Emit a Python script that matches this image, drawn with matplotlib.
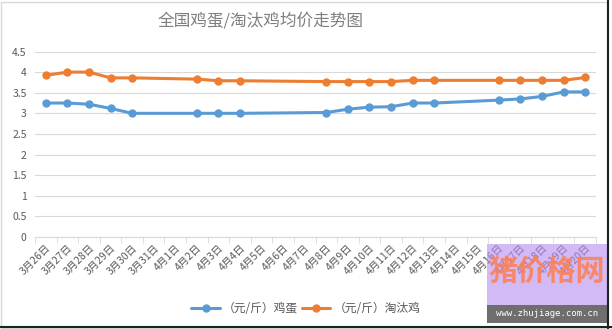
import matplotlib
matplotlib.use('Agg')
from matplotlib import pyplot as plt
import numpy as np

plt.rcParams['font.family'] = ['Noto Sans CJK SC', 'DejaVu Sans']

# axis categories: every day from 3/26 to 4/20
days = ['3月26日', '3月27日', '3月28日', '3月29日', '3月30日', '3月31日',
        '4月1日', '4月2日', '4月3日', '4月4日', '4月5日', '4月6日', '4月7日',
        '4月8日', '4月9日', '4月10日', '4月11日', '4月12日', '4月13日',
        '4月14日', '4月15日', '4月16日', '4月17日', '4月18日', '4月19日', '4月20日']

# days with a reported price
obs_days = ['3月26日', '3月27日', '3月28日', '3月29日', '3月30日',
            '4月2日', '4月3日', '4月4日',
            '4月8日', '4月9日', '4月10日', '4月11日', '4月12日', '4月13日',
            '4月16日', '4月17日', '4月18日', '4月19日', '4月20日']
egg = [3.25, 3.25, 3.22, 3.12, 3.00,
       3.00, 3.00, 3.00,
       3.02, 3.10, 3.15, 3.16, 3.25, 3.25,
       3.32, 3.35, 3.41, 3.52, 3.52]
hen = [3.92, 4.00, 4.00, 3.86, 3.86,
       3.83, 3.79, 3.79,
       3.77, 3.77, 3.77, 3.77, 3.80, 3.80,
       3.80, 3.80, 3.80, 3.80, 3.87]

names = ['（元/斤）鸡蛋', '（元/斤）淘汰鸡']
colors = ['#5B9BD5', '#ED7D31']

fig = plt.figure(figsize=(6.12, 3.29), dpi=100)
ax = fig.add_axes([35 / 612, 1 - 237 / 329, 561 / 612, 185.5 / 329])

x = [days.index(d) for d in obs_days]
for ys, nm, c in zip([egg, hen], names, colors):
    ax.plot(x, ys, color=c, lw=2.2, marker='o', ms=5, label=nm,
            solid_capstyle='round')

ax.set_xlim(-0.5, len(days) - 0.5)
ax.set_ylim(0, 4.5)
ax.set_yticks(np.arange(0, 4.51, 0.5))
ax.set_yticklabels(['0', '0.5', '1', '1.5', '2', '2.5', '3', '3.5', '4', '4.5'],
                   fontsize=7.5, color='#595959')
ax.yaxis.grid(True, color='#D9D9D9', lw=0.8)
ax.set_axisbelow(True)
ax.tick_params(axis='y', length=0, pad=6)

ax.set_xticks(range(len(days)))
ax.set_xticklabels(days, rotation=45, ha='right', rotation_mode='anchor',
                   fontsize=7.5, color='#595959')
ax.tick_params(axis='x', which='major', length=0, pad=4)
ax.set_xticks(np.arange(-0.5, len(days), 1), minor=True)
ax.tick_params(axis='x', which='minor', length=4, color='#D9D9D9')

for s in ['top', 'right', 'left']:
    ax.spines[s].set_visible(False)
ax.spines['bottom'].set_color('#D9D9D9')

fig.text(261 / 612, 1 - 21 / 329, '全国鸡蛋/淘汰鸡均价走势图', ha='center', va='center',
         fontsize=12, color='#7F7F7F')

fig.legend(loc='center', bbox_to_anchor=(0.5, 1 - 309 / 329), ncol=2,
           frameon=False, fontsize=8.5, handlelength=2.4, handletextpad=0.3,
           columnspacing=0.3, labelcolor='#595959')

# chart border
fig.patches.append(plt.Rectangle((0.002, 0.004), 0.99, 0.99, transform=fig.transFigure,
                                 fill=False, edgecolor='#D9D9D9', lw=1))
fig.lines.append(plt.Line2D([608 / 612, 608 / 612], [0, 1], transform=fig.transFigure,
                            color='#222222', lw=1.5))
fig.lines.append(plt.Line2D([0, 1], [1 - 327 / 329, 1 - 327 / 329], transform=fig.transFigure,
                            color='#222222', lw=1.5))

# watermark
fig.patches.append(plt.Rectangle((487 / 612, 1 - 305 / 329), 120 / 612, 61 / 329,
                                 transform=fig.transFigure, color='#B38CF0', alpha=0.6, lw=0))
fig.patches.append(plt.Rectangle((487 / 612, 1 - 323 / 329), 120 / 612, 18 / 329,
                                 transform=fig.transFigure, color='#6E6E6E', lw=0))
fig.text(547 / 612, 1 - 271 / 329, '猪价格网', ha='center', va='center',
         fontsize=21, color='#FF7F50', alpha=0.85, fontweight='bold')
fig.text(547 / 612, 1 - 314 / 329, 'www.zhujiage.com.cn', ha='center', va='center',
         fontsize=6.5, color='white', family='DejaVu Sans Mono')

fig.savefig('out.png', dpi=100)
